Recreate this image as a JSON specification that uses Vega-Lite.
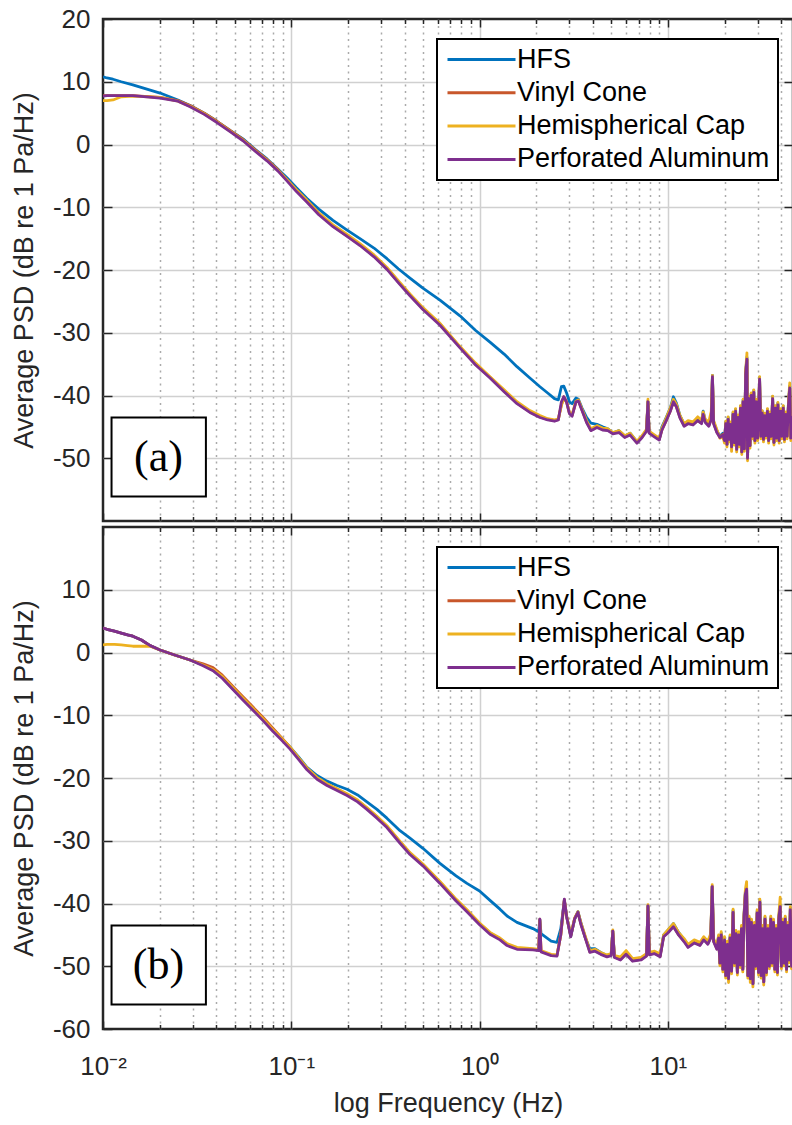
{
  "$schema": "https://vega.github.io/schema/vega-lite/v6.json",
  "autosize": {"type": "none"},
  "padding": {"left": 103, "top": 19, "right": 689, "bottom": 1106},
  "bounds": "flush",
  "spacing": 6,
  "background": "white",
  "config": {
    "view": {"stroke": "#262626", "strokeWidth": 2.5},
    "axis": {
      "labelFont": "Liberation Sans", "labelFontSize": 26, "labelColor": "#262626",
      "titleFont": "Liberation Sans", "titleFontSize": 27, "titleFontWeight": "normal", "titleColor": "#262626",
      "tickColor": "#262626", "tickWidth": 1.5, "domain": false, "labelOverlap": false,
      "labelFlush": false, "labelBound": false, "gridWidth": 1.5
    },
    "legend": {"strokeWidth": 2}
  },
  "datasets": {
    "a": [
      {"f":0.01,"HFS":10.8,"Vinyl Cone":7.8,"Hemispherical Cap":7.0,"Perforated Aluminum":7.7},
      {"f":0.0105,"HFS":10.6,"Vinyl Cone":7.8,"Hemispherical Cap":7.0,"Perforated Aluminum":7.8},
      {"f":0.0113,"HFS":10.4,"Vinyl Cone":7.8,"Hemispherical Cap":7.1,"Perforated Aluminum":7.8},
      {"f":0.0125,"HFS":10.0,"Vinyl Cone":7.8,"Hemispherical Cap":7.6,"Perforated Aluminum":7.8},
      {"f":0.0144,"HFS":9.5,"Vinyl Cone":7.8,"Hemispherical Cap":7.7,"Perforated Aluminum":7.8},
      {"f":0.0201,"HFS":8.2,"Vinyl Cone":7.5,"Hemispherical Cap":7.5,"Perforated Aluminum":7.4},
      {"f":0.025,"HFS":7.1,"Vinyl Cone":7.0,"Hemispherical Cap":6.9,"Perforated Aluminum":6.9},
      {"f":0.029,"HFS":6.2,"Vinyl Cone":6.2,"Hemispherical Cap":6.1,"Perforated Aluminum":6.0},
      {"f":0.0345,"HFS":5.0,"Vinyl Cone":5.0,"Hemispherical Cap":4.9,"Perforated Aluminum":4.8},
      {"f":0.0403,"HFS":3.7,"Vinyl Cone":3.7,"Hemispherical Cap":3.6,"Perforated Aluminum":3.5},
      {"f":0.0475,"HFS":2.2,"Vinyl Cone":2.2,"Hemispherical Cap":2.1,"Perforated Aluminum":2.0},
      {"f":0.0554,"HFS":0.9,"Vinyl Cone":0.8,"Hemispherical Cap":0.7,"Perforated Aluminum":0.6},
      {"f":0.0645,"HFS":-0.8,"Vinyl Cone":-0.9,"Hemispherical Cap":-1.0,"Perforated Aluminum":-1.1},
      {"f":0.0743,"HFS":-2.3,"Vinyl Cone":-2.4,"Hemispherical Cap":-2.5,"Perforated Aluminum":-2.6},
      {"f":0.0848,"HFS":-3.9,"Vinyl Cone":-4.0,"Hemispherical Cap":-4.1,"Perforated Aluminum":-4.2},
      {"f":0.0948,"HFS":-5.3,"Vinyl Cone":-5.6,"Hemispherical Cap":-5.6,"Perforated Aluminum":-5.8},
      {"f":0.1065,"HFS":-6.9,"Vinyl Cone":-7.3,"Hemispherical Cap":-7.2,"Perforated Aluminum":-7.5},
      {"f":0.1212,"HFS":-8.6,"Vinyl Cone":-9.0,"Hemispherical Cap":-8.9,"Perforated Aluminum":-9.2},
      {"f":0.14,"HFS":-10.3,"Vinyl Cone":-11.0,"Hemispherical Cap":-10.9,"Perforated Aluminum":-11.2},
      {"f":0.1665,"HFS":-12.1,"Vinyl Cone":-13.0,"Hemispherical Cap":-12.8,"Perforated Aluminum":-13.1},
      {"f":0.197,"HFS":-13.6,"Vinyl Cone":-14.5,"Hemispherical Cap":-14.3,"Perforated Aluminum":-14.6},
      {"f":0.2317,"HFS":-15.0,"Vinyl Cone":-16.0,"Hemispherical Cap":-15.8,"Perforated Aluminum":-16.1},
      {"f":0.275,"HFS":-16.5,"Vinyl Cone":-17.8,"Hemispherical Cap":-17.6,"Perforated Aluminum":-17.9},
      {"f":0.3223,"HFS":-18.2,"Vinyl Cone":-19.8,"Hemispherical Cap":-19.6,"Perforated Aluminum":-19.9},
      {"f":0.37,"HFS":-19.8,"Vinyl Cone":-21.9,"Hemispherical Cap":-21.7,"Perforated Aluminum":-22.0},
      {"f":0.4269,"HFS":-21.3,"Vinyl Cone":-24.0,"Hemispherical Cap":-23.8,"Perforated Aluminum":-24.1},
      {"f":0.5,"HFS":-22.9,"Vinyl Cone":-26.2,"Hemispherical Cap":-26.0,"Perforated Aluminum":-26.3},
      {"f":0.6163,"HFS":-24.8,"Vinyl Cone":-28.6,"Hemispherical Cap":-28.5,"Perforated Aluminum":-28.8},
      {"f":0.787,"HFS":-27.3,"Vinyl Cone":-32.3,"Hemispherical Cap":-32.2,"Perforated Aluminum":-32.4},
      {"f":0.95,"HFS":-29.6,"Vinyl Cone":-35.0,"Hemispherical Cap":-34.8,"Perforated Aluminum":-35.1},
      {"f":1.136,"HFS":-31.5,"Vinyl Cone":-37.1,"Hemispherical Cap":-37.0,"Perforated Aluminum":-37.2},
      {"f":1.35,"HFS":-33.4,"Vinyl Cone":-39.3,"Hemispherical Cap":-39.1,"Perforated Aluminum":-39.4},
      {"f":1.58,"HFS":-35.4,"Vinyl Cone":-41.2,"Hemispherical Cap":-41.0,"Perforated Aluminum":-41.3},
      {"f":1.85,"HFS":-37.2,"Vinyl Cone":-42.6,"Hemispherical Cap":-42.4,"Perforated Aluminum":-42.7},
      {"f":2.093,"HFS":-38.6,"Vinyl Cone":-43.4,"Hemispherical Cap":-43.2,"Perforated Aluminum":-43.5},
      {"f":2.3,"HFS":-39.6,"Vinyl Cone":-43.8,"Hemispherical Cap":-43.7,"Perforated Aluminum":-43.9},
      {"f":2.5,"HFS":-40.5,"Vinyl Cone":-44.0,"Hemispherical Cap":-43.9,"Perforated Aluminum":-44.1},
      {"f":2.62,"HFS":-40.7,"Vinyl Cone":-43.8,"Hemispherical Cap":-43.7,"Perforated Aluminum":-43.9},
      {"f":2.72,"HFS":-38.6,"Vinyl Cone":-41.5,"Hemispherical Cap":-41.6,"Perforated Aluminum":-41.0},
      {"f":2.8,"HFS":-38.5,"Vinyl Cone":-40.2,"Hemispherical Cap":-40.4,"Perforated Aluminum":-40.2},
      {"f":2.9,"HFS":-39.6,"Vinyl Cone":-41.0,"Hemispherical Cap":-41.1,"Perforated Aluminum":-41.1},
      {"f":3.0,"HFS":-41.0,"Vinyl Cone":-42.8,"Hemispherical Cap":-42.7,"Perforated Aluminum":-42.9},
      {"f":3.1,"HFS":-41.3,"Vinyl Cone":-43.2,"Hemispherical Cap":-43.0,"Perforated Aluminum":-43.3},
      {"f":3.25,"HFS":-40.4,"Vinyl Cone":-41.0,"Hemispherical Cap":-40.9,"Perforated Aluminum":-41.0},
      {"f":3.35,"HFS":-40.6,"Vinyl Cone":-40.8,"Hemispherical Cap":-40.7,"Perforated Aluminum":-40.9},
      {"f":3.5,"HFS":-42.0,"Vinyl Cone":-42.3,"Hemispherical Cap":-42.2,"Perforated Aluminum":-42.4},
      {"f":3.7,"HFS":-43.5,"Vinyl Cone":-44.2,"Hemispherical Cap":-44.0,"Perforated Aluminum":-44.3},
      {"f":3.9,"HFS":-44.4,"Vinyl Cone":-45.5,"Hemispherical Cap":-45.3,"Perforated Aluminum":-45.6},
      {"f":4.2,"HFS":-44.6,"Vinyl Cone":-45.0,"Hemispherical Cap":-44.8,"Perforated Aluminum":-45.1},
      {"f":4.5,"HFS":-45.0,"Vinyl Cone":-45.4,"Hemispherical Cap":-45.2,"Perforated Aluminum":-45.5},
      {"f":4.8,"HFS":-45.3,"Vinyl Cone":-45.5,"Hemispherical Cap":-45.3,"Perforated Aluminum":-45.6},
      {"f":5.1,"HFS":-46.0,"Vinyl Cone":-46.0,"Hemispherical Cap":-45.9,"Perforated Aluminum":-46.1},
      {"f":5.5,"HFS":-45.6,"Vinyl Cone":-45.8,"Hemispherical Cap":-45.6,"Perforated Aluminum":-45.9},
      {"f":5.9,"HFS":-46.5,"Vinyl Cone":-46.6,"Hemispherical Cap":-46.4,"Perforated Aluminum":-46.7},
      {"f":6.3,"HFS":-46.0,"Vinyl Cone":-46.2,"Hemispherical Cap":-46.0,"Perforated Aluminum":-46.3},
      {"f":6.85,"HFS":-47.4,"Vinyl Cone":-47.5,"Hemispherical Cap":-47.3,"Perforated Aluminum":-47.6},
      {"f":7.3,"HFS":-46.5,"Vinyl Cone":-46.6,"Hemispherical Cap":-46.4,"Perforated Aluminum":-46.7},
      {"f":7.7,"HFS":-45.5,"Vinyl Cone":-45.6,"Hemispherical Cap":-45.4,"Perforated Aluminum":-45.7},
      {"f":7.84,"HFS":-41.0,"Vinyl Cone":-41.0,"Hemispherical Cap":-40.6,"Perforated Aluminum":-41.0},
      {"f":7.95,"HFS":-45.8,"Vinyl Cone":-45.9,"Hemispherical Cap":-45.7,"Perforated Aluminum":-46.0},
      {"f":8.4,"HFS":-46.3,"Vinyl Cone":-46.4,"Hemispherical Cap":-46.2,"Perforated Aluminum":-46.5},
      {"f":9.0,"HFS":-47.0,"Vinyl Cone":-47.0,"Hemispherical Cap":-46.8,"Perforated Aluminum":-47.1},
      {"f":9.3,"HFS":-45.0,"Vinyl Cone":-45.5,"Hemispherical Cap":-45.2,"Perforated Aluminum":-45.5},
      {"f":9.8,"HFS":-43.5,"Vinyl Cone":-44.0,"Hemispherical Cap":-43.6,"Perforated Aluminum":-44.0},
      {"f":10.3,"HFS":-42.0,"Vinyl Cone":-42.5,"Hemispherical Cap":-42.0,"Perforated Aluminum":-42.5},
      {"f":10.7,"HFS":-40.2,"Vinyl Cone":-41.0,"Hemispherical Cap":-40.6,"Perforated Aluminum":-41.0},
      {"f":11.1,"HFS":-41.2,"Vinyl Cone":-41.8,"Hemispherical Cap":-41.4,"Perforated Aluminum":-41.8},
      {"f":11.6,"HFS":-43.2,"Vinyl Cone":-43.5,"Hemispherical Cap":-43.2,"Perforated Aluminum":-43.6},
      {"f":12.2,"HFS":-44.6,"Vinyl Cone":-44.8,"Hemispherical Cap":-44.5,"Perforated Aluminum":-44.9},
      {"f":12.8,"HFS":-44.2,"Vinyl Cone":-44.4,"Hemispherical Cap":-44.0,"Perforated Aluminum":-44.5},
      {"f":13.6,"HFS":-44.5,"Vinyl Cone":-44.6,"Hemispherical Cap":-44.2,"Perforated Aluminum":-44.7},
      {"f":14.4,"HFS":-43.6,"Vinyl Cone":-44.0,"Hemispherical Cap":-43.4,"Perforated Aluminum":-44.0},
      {"f":15.1,"HFS":-44.2,"Vinyl Cone":-44.4,"Hemispherical Cap":-44.0,"Perforated Aluminum":-44.5},
      {"f":15.4,"HFS":-42.5,"Vinyl Cone":-43.0,"Hemispherical Cap":-42.6,"Perforated Aluminum":-43.0},
      {"f":15.8,"HFS":-44.0,"Vinyl Cone":-44.2,"Hemispherical Cap":-43.8,"Perforated Aluminum":-44.3},
      {"f":16.5,"HFS":-44.6,"Vinyl Cone":-44.8,"Hemispherical Cap":-44.2,"Perforated Aluminum":-44.9},
      {"f":17.0,"HFS":-43.5,"Vinyl Cone":-43.8,"Hemispherical Cap":-42.5,"Perforated Aluminum":-43.8},
      {"f":17.25,"HFS":-36.8,"Vinyl Cone":-37.0,"Hemispherical Cap":-36.8,"Perforated Aluminum":-37.0},
      {"f":17.5,"HFS":-44.2,"Vinyl Cone":-44.4,"Hemispherical Cap":-44.0,"Perforated Aluminum":-44.5},
      {"f":18.2,"HFS":-45.6,"Vinyl Cone":-45.8,"Hemispherical Cap":-45.4,"Perforated Aluminum":-45.9},
      {"f":18.9,"HFS":-46.5,"Vinyl Cone":-46.6,"Hemispherical Cap":-46.8,"Perforated Aluminum":-46.7},
      {"f":19.6,"HFS":-46.0,"Vinyl Cone":-46.2,"Hemispherical Cap":-46.6,"Perforated Aluminum":-46.3},
      {"f":20.0,"HFS":-47.2,"Vinyl Cone":-47.2,"Hemispherical Cap":-47.6,"Perforated Aluminum":-47.2},
      {"f":20.3,"HFS":-44.2,"Vinyl Cone":-44.5,"Hemispherical Cap":-44.1,"Perforated Aluminum":-44.5},
      {"f":20.6,"HFS":-47.8,"Vinyl Cone":-47.8,"Hemispherical Cap":-48.2,"Perforated Aluminum":-47.8},
      {"f":20.9,"HFS":-43.5,"Vinyl Cone":-43.8,"Hemispherical Cap":-43.4,"Perforated Aluminum":-43.8},
      {"f":21.2,"HFS":-47.0,"Vinyl Cone":-47.0,"Hemispherical Cap":-47.4,"Perforated Aluminum":-47.0},
      {"f":21.5,"HFS":-44.3,"Vinyl Cone":-44.6,"Hemispherical Cap":-44.2,"Perforated Aluminum":-44.6},
      {"f":21.8,"HFS":-48.2,"Vinyl Cone":-48.2,"Hemispherical Cap":-48.9,"Perforated Aluminum":-48.2},
      {"f":22.2,"HFS":-42.7,"Vinyl Cone":-43.0,"Hemispherical Cap":-42.6,"Perforated Aluminum":-43.0},
      {"f":22.5,"HFS":-47.5,"Vinyl Cone":-47.5,"Hemispherical Cap":-47.9,"Perforated Aluminum":-47.5},
      {"f":22.9,"HFS":-42.2,"Vinyl Cone":-42.5,"Hemispherical Cap":-42.1,"Perforated Aluminum":-42.5},
      {"f":23.2,"HFS":-48.6,"Vinyl Cone":-48.6,"Hemispherical Cap":-49.0,"Perforated Aluminum":-48.6},
      {"f":23.6,"HFS":-43.2,"Vinyl Cone":-43.5,"Hemispherical Cap":-43.1,"Perforated Aluminum":-43.5},
      {"f":24.0,"HFS":-47.8,"Vinyl Cone":-47.8,"Hemispherical Cap":-48.2,"Perforated Aluminum":-47.8},
      {"f":24.3,"HFS":-41.7,"Vinyl Cone":-42.0,"Hemispherical Cap":-41.6,"Perforated Aluminum":-42.0},
      {"f":24.7,"HFS":-49.0,"Vinyl Cone":-49.0,"Hemispherical Cap":-49.4,"Perforated Aluminum":-49.0},
      {"f":25.1,"HFS":-40.7,"Vinyl Cone":-41.0,"Hemispherical Cap":-40.6,"Perforated Aluminum":-41.0},
      {"f":25.5,"HFS":-48.5,"Vinyl Cone":-48.5,"Hemispherical Cap":-48.9,"Perforated Aluminum":-48.5},
      {"f":25.9,"HFS":-36.2,"Vinyl Cone":-36.5,"Hemispherical Cap":-36.1,"Perforated Aluminum":-36.5},
      {"f":26.3,"HFS":-33.9,"Vinyl Cone":-34.2,"Hemispherical Cap":-33.2,"Perforated Aluminum":-34.2},
      {"f":26.5,"HFS":-50.0,"Vinyl Cone":-50.0,"Hemispherical Cap":-50.4,"Perforated Aluminum":-50.0},
      {"f":26.9,"HFS":-40.2,"Vinyl Cone":-40.5,"Hemispherical Cap":-40.1,"Perforated Aluminum":-40.5},
      {"f":27.3,"HFS":-48.0,"Vinyl Cone":-48.0,"Hemispherical Cap":-48.4,"Perforated Aluminum":-48.0},
      {"f":27.7,"HFS":-39.7,"Vinyl Cone":-40.0,"Hemispherical Cap":-39.6,"Perforated Aluminum":-40.0},
      {"f":28.1,"HFS":-46.5,"Vinyl Cone":-46.5,"Hemispherical Cap":-46.9,"Perforated Aluminum":-46.5},
      {"f":28.6,"HFS":-39.2,"Vinyl Cone":-39.5,"Hemispherical Cap":-39.1,"Perforated Aluminum":-39.5},
      {"f":29.0,"HFS":-47.2,"Vinyl Cone":-47.2,"Hemispherical Cap":-47.6,"Perforated Aluminum":-47.2},
      {"f":29.5,"HFS":-40.7,"Vinyl Cone":-41.0,"Hemispherical Cap":-40.6,"Perforated Aluminum":-41.0},
      {"f":30.0,"HFS":-46.8,"Vinyl Cone":-46.8,"Hemispherical Cap":-47.2,"Perforated Aluminum":-46.8},
      {"f":30.7,"HFS":-37.1,"Vinyl Cone":-37.4,"Hemispherical Cap":-37.0,"Perforated Aluminum":-37.4},
      {"f":31.2,"HFS":-46.5,"Vinyl Cone":-46.5,"Hemispherical Cap":-46.9,"Perforated Aluminum":-46.5},
      {"f":31.7,"HFS":-42.5,"Vinyl Cone":-42.8,"Hemispherical Cap":-42.4,"Perforated Aluminum":-42.8},
      {"f":32.2,"HFS":-47.0,"Vinyl Cone":-47.0,"Hemispherical Cap":-47.4,"Perforated Aluminum":-47.0},
      {"f":32.7,"HFS":-42.9,"Vinyl Cone":-43.2,"Hemispherical Cap":-42.8,"Perforated Aluminum":-43.2},
      {"f":33.2,"HFS":-46.4,"Vinyl Cone":-46.4,"Hemispherical Cap":-46.8,"Perforated Aluminum":-46.4},
      {"f":33.8,"HFS":-42.2,"Vinyl Cone":-42.5,"Hemispherical Cap":-42.1,"Perforated Aluminum":-42.5},
      {"f":34.3,"HFS":-47.2,"Vinyl Cone":-47.2,"Hemispherical Cap":-47.6,"Perforated Aluminum":-47.2},
      {"f":34.9,"HFS":-42.7,"Vinyl Cone":-43.0,"Hemispherical Cap":-42.6,"Perforated Aluminum":-43.0},
      {"f":35.4,"HFS":-46.5,"Vinyl Cone":-46.5,"Hemispherical Cap":-46.9,"Perforated Aluminum":-46.5},
      {"f":36.0,"HFS":-40.2,"Vinyl Cone":-40.5,"Hemispherical Cap":-40.1,"Perforated Aluminum":-40.5},
      {"f":36.6,"HFS":-47.5,"Vinyl Cone":-47.5,"Hemispherical Cap":-47.9,"Perforated Aluminum":-47.5},
      {"f":37.2,"HFS":-41.7,"Vinyl Cone":-42.0,"Hemispherical Cap":-41.6,"Perforated Aluminum":-42.0},
      {"f":37.8,"HFS":-46.8,"Vinyl Cone":-46.8,"Hemispherical Cap":-47.2,"Perforated Aluminum":-46.8},
      {"f":38.4,"HFS":-41.2,"Vinyl Cone":-41.5,"Hemispherical Cap":-41.1,"Perforated Aluminum":-41.5},
      {"f":39.0,"HFS":-47.2,"Vinyl Cone":-47.2,"Hemispherical Cap":-47.6,"Perforated Aluminum":-47.2},
      {"f":39.7,"HFS":-42.2,"Vinyl Cone":-42.5,"Hemispherical Cap":-42.1,"Perforated Aluminum":-42.5},
      {"f":40.3,"HFS":-46.5,"Vinyl Cone":-46.5,"Hemispherical Cap":-46.9,"Perforated Aluminum":-46.5},
      {"f":41.0,"HFS":-41.7,"Vinyl Cone":-42.0,"Hemispherical Cap":-41.6,"Perforated Aluminum":-42.0},
      {"f":41.6,"HFS":-47.0,"Vinyl Cone":-47.0,"Hemispherical Cap":-47.4,"Perforated Aluminum":-47.0},
      {"f":42.3,"HFS":-42.7,"Vinyl Cone":-43.0,"Hemispherical Cap":-42.6,"Perforated Aluminum":-43.0},
      {"f":43.0,"HFS":-46.5,"Vinyl Cone":-46.5,"Hemispherical Cap":-46.9,"Perforated Aluminum":-46.5},
      {"f":43.7,"HFS":-41.2,"Vinyl Cone":-41.5,"Hemispherical Cap":-41.1,"Perforated Aluminum":-41.5},
      {"f":44.4,"HFS":-38.5,"Vinyl Cone":-38.8,"Hemispherical Cap":-38.0,"Perforated Aluminum":-38.8},
      {"f":45.0,"HFS":-46.8,"Vinyl Cone":-46.8,"Hemispherical Cap":-47.2,"Perforated Aluminum":-46.8},
      {"f":45.7,"HFS":-43.2,"Vinyl Cone":-43.5,"Hemispherical Cap":-43.1,"Perforated Aluminum":-43.5},
      {"f":46.2,"HFS":-45.5,"Vinyl Cone":-45.5,"Hemispherical Cap":-45.9,"Perforated Aluminum":-45.5}
    ],
    "b": [
      {"f":0.01,"HFS":3.9,"Vinyl Cone":3.9,"Hemispherical Cap":1.2,"Perforated Aluminum":3.9},
      {"f":0.0105,"HFS":3.7,"Vinyl Cone":3.7,"Hemispherical Cap":1.3,"Perforated Aluminum":3.7},
      {"f":0.0115,"HFS":3.4,"Vinyl Cone":3.4,"Hemispherical Cap":1.3,"Perforated Aluminum":3.4},
      {"f":0.0125,"HFS":3.1,"Vinyl Cone":3.1,"Hemispherical Cap":1.2,"Perforated Aluminum":3.1},
      {"f":0.0135,"HFS":2.8,"Vinyl Cone":2.8,"Hemispherical Cap":1.1,"Perforated Aluminum":2.8},
      {"f":0.0144,"HFS":2.6,"Vinyl Cone":2.6,"Hemispherical Cap":1.0,"Perforated Aluminum":2.6},
      {"f":0.016,"HFS":2.0,"Vinyl Cone":2.0,"Hemispherical Cap":1.0,"Perforated Aluminum":2.0},
      {"f":0.0178,"HFS":1.1,"Vinyl Cone":1.1,"Hemispherical Cap":1.0,"Perforated Aluminum":1.1},
      {"f":0.0201,"HFS":0.4,"Vinyl Cone":0.4,"Hemispherical Cap":0.4,"Perforated Aluminum":0.4},
      {"f":0.024,"HFS":-0.4,"Vinyl Cone":-0.4,"Hemispherical Cap":-0.4,"Perforated Aluminum":-0.4},
      {"f":0.029,"HFS":-1.2,"Vinyl Cone":-1.2,"Hemispherical Cap":-1.2,"Perforated Aluminum":-1.2},
      {"f":0.034,"HFS":-2.0,"Vinyl Cone":-1.8,"Hemispherical Cap":-2.0,"Perforated Aluminum":-2.1},
      {"f":0.0384,"HFS":-2.8,"Vinyl Cone":-2.4,"Hemispherical Cap":-2.7,"Perforated Aluminum":-2.9},
      {"f":0.043,"HFS":-4.0,"Vinyl Cone":-3.6,"Hemispherical Cap":-3.8,"Perforated Aluminum":-4.1},
      {"f":0.049,"HFS":-5.8,"Vinyl Cone":-5.4,"Hemispherical Cap":-5.6,"Perforated Aluminum":-5.9},
      {"f":0.0555,"HFS":-7.4,"Vinyl Cone":-7.1,"Hemispherical Cap":-7.3,"Perforated Aluminum":-7.6},
      {"f":0.0626,"HFS":-9.0,"Vinyl Cone":-8.7,"Hemispherical Cap":-8.9,"Perforated Aluminum":-9.2},
      {"f":0.071,"HFS":-10.7,"Vinyl Cone":-10.4,"Hemispherical Cap":-10.6,"Perforated Aluminum":-10.9},
      {"f":0.08,"HFS":-12.3,"Vinyl Cone":-12.1,"Hemispherical Cap":-12.3,"Perforated Aluminum":-12.6},
      {"f":0.089,"HFS":-13.7,"Vinyl Cone":-13.6,"Hemispherical Cap":-13.7,"Perforated Aluminum":-14.0},
      {"f":0.0985,"HFS":-15.1,"Vinyl Cone":-15.1,"Hemispherical Cap":-15.1,"Perforated Aluminum":-15.4},
      {"f":0.109,"HFS":-16.6,"Vinyl Cone":-16.8,"Hemispherical Cap":-16.7,"Perforated Aluminum":-17.0},
      {"f":0.1212,"HFS":-18.3,"Vinyl Cone":-18.5,"Hemispherical Cap":-18.4,"Perforated Aluminum":-18.7},
      {"f":0.137,"HFS":-19.6,"Vinyl Cone":-20.0,"Hemispherical Cap":-19.9,"Perforated Aluminum":-20.2},
      {"f":0.1547,"HFS":-20.5,"Vinyl Cone":-21.0,"Hemispherical Cap":-20.9,"Perforated Aluminum":-21.2},
      {"f":0.175,"HFS":-21.2,"Vinyl Cone":-21.8,"Hemispherical Cap":-21.7,"Perforated Aluminum":-22.0},
      {"f":0.1977,"HFS":-21.8,"Vinyl Cone":-22.6,"Hemispherical Cap":-22.5,"Perforated Aluminum":-22.8},
      {"f":0.225,"HFS":-22.7,"Vinyl Cone":-23.6,"Hemispherical Cap":-23.5,"Perforated Aluminum":-23.8},
      {"f":0.252,"HFS":-23.8,"Vinyl Cone":-24.8,"Hemispherical Cap":-24.7,"Perforated Aluminum":-25.0},
      {"f":0.285,"HFS":-25.0,"Vinyl Cone":-26.2,"Hemispherical Cap":-26.1,"Perforated Aluminum":-26.4},
      {"f":0.322,"HFS":-26.4,"Vinyl Cone":-27.7,"Hemispherical Cap":-27.6,"Perforated Aluminum":-27.9},
      {"f":0.378,"HFS":-28.4,"Vinyl Cone":-30.2,"Hemispherical Cap":-30.1,"Perforated Aluminum":-30.4},
      {"f":0.427,"HFS":-29.6,"Vinyl Cone":-32.0,"Hemispherical Cap":-31.9,"Perforated Aluminum":-32.2},
      {"f":0.5,"HFS":-31.2,"Vinyl Cone":-33.8,"Hemispherical Cap":-33.7,"Perforated Aluminum":-34.0},
      {"f":0.616,"HFS":-33.6,"Vinyl Cone":-36.6,"Hemispherical Cap":-36.5,"Perforated Aluminum":-36.8},
      {"f":0.75,"HFS":-35.6,"Vinyl Cone":-39.4,"Hemispherical Cap":-39.3,"Perforated Aluminum":-39.6},
      {"f":0.857,"HFS":-36.8,"Vinyl Cone":-41.1,"Hemispherical Cap":-41.0,"Perforated Aluminum":-41.3},
      {"f":1.0,"HFS":-38.0,"Vinyl Cone":-43.2,"Hemispherical Cap":-43.1,"Perforated Aluminum":-43.4},
      {"f":1.136,"HFS":-39.5,"Vinyl Cone":-44.7,"Hemispherical Cap":-44.6,"Perforated Aluminum":-44.9},
      {"f":1.283,"HFS":-40.9,"Vinyl Cone":-45.6,"Hemispherical Cap":-45.5,"Perforated Aluminum":-45.8},
      {"f":1.4,"HFS":-42.0,"Vinyl Cone":-46.5,"Hemispherical Cap":-46.4,"Perforated Aluminum":-46.7},
      {"f":1.58,"HFS":-43.0,"Vinyl Cone":-47.1,"Hemispherical Cap":-47.0,"Perforated Aluminum":-47.3},
      {"f":1.92,"HFS":-44.0,"Vinyl Cone":-47.3,"Hemispherical Cap":-47.2,"Perforated Aluminum":-47.4},
      {"f":2.06,"HFS":-44.5,"Vinyl Cone":-47.4,"Hemispherical Cap":-47.3,"Perforated Aluminum":-47.5},
      {"f":2.09,"HFS":-42.6,"Vinyl Cone":-42.5,"Hemispherical Cap":-42.8,"Perforated Aluminum":-42.5},
      {"f":2.12,"HFS":-44.8,"Vinyl Cone":-47.6,"Hemispherical Cap":-47.5,"Perforated Aluminum":-47.7},
      {"f":2.4,"HFS":-46.0,"Vinyl Cone":-48.2,"Hemispherical Cap":-48.1,"Perforated Aluminum":-48.3},
      {"f":2.576,"HFS":-46.2,"Vinyl Cone":-48.3,"Hemispherical Cap":-48.2,"Perforated Aluminum":-48.4},
      {"f":2.7,"HFS":-44.0,"Vinyl Cone":-45.0,"Hemispherical Cap":-45.0,"Perforated Aluminum":-45.0},
      {"f":2.82,"HFS":-39.5,"Vinyl Cone":-39.4,"Hemispherical Cap":-39.5,"Perforated Aluminum":-39.3},
      {"f":2.9,"HFS":-42.0,"Vinyl Cone":-42.1,"Hemispherical Cap":-42.0,"Perforated Aluminum":-42.1},
      {"f":3.05,"HFS":-45.2,"Vinyl Cone":-45.2,"Hemispherical Cap":-45.0,"Perforated Aluminum":-45.3},
      {"f":3.2,"HFS":-42.5,"Vinyl Cone":-42.4,"Hemispherical Cap":-42.3,"Perforated Aluminum":-42.4},
      {"f":3.33,"HFS":-41.3,"Vinyl Cone":-41.4,"Hemispherical Cap":-41.3,"Perforated Aluminum":-41.4},
      {"f":3.45,"HFS":-43.0,"Vinyl Cone":-43.2,"Hemispherical Cap":-43.0,"Perforated Aluminum":-43.3},
      {"f":3.65,"HFS":-45.5,"Vinyl Cone":-45.5,"Hemispherical Cap":-45.3,"Perforated Aluminum":-45.6},
      {"f":3.85,"HFS":-47.2,"Vinyl Cone":-47.7,"Hemispherical Cap":-47.5,"Perforated Aluminum":-47.8},
      {"f":4.1,"HFS":-47.2,"Vinyl Cone":-47.5,"Hemispherical Cap":-47.3,"Perforated Aluminum":-47.6},
      {"f":4.4,"HFS":-47.8,"Vinyl Cone":-48.0,"Hemispherical Cap":-47.8,"Perforated Aluminum":-48.1},
      {"f":4.75,"HFS":-48.3,"Vinyl Cone":-48.4,"Hemispherical Cap":-48.2,"Perforated Aluminum":-48.5},
      {"f":5.0,"HFS":-48.0,"Vinyl Cone":-48.2,"Hemispherical Cap":-48.0,"Perforated Aluminum":-48.3},
      {"f":5.1,"HFS":-44.4,"Vinyl Cone":-44.4,"Hemispherical Cap":-44.2,"Perforated Aluminum":-44.4},
      {"f":5.2,"HFS":-48.4,"Vinyl Cone":-48.5,"Hemispherical Cap":-48.3,"Perforated Aluminum":-48.6},
      {"f":5.6,"HFS":-48.8,"Vinyl Cone":-48.9,"Hemispherical Cap":-48.5,"Perforated Aluminum":-49.0},
      {"f":6.0,"HFS":-47.8,"Vinyl Cone":-48.0,"Hemispherical Cap":-47.5,"Perforated Aluminum":-48.1},
      {"f":6.5,"HFS":-49.0,"Vinyl Cone":-49.1,"Hemispherical Cap":-48.8,"Perforated Aluminum":-49.2},
      {"f":7.2,"HFS":-48.8,"Vinyl Cone":-48.9,"Hemispherical Cap":-48.6,"Perforated Aluminum":-49.0},
      {"f":7.7,"HFS":-48.2,"Vinyl Cone":-48.3,"Hemispherical Cap":-48.0,"Perforated Aluminum":-48.4},
      {"f":7.84,"HFS":-40.4,"Vinyl Cone":-40.4,"Hemispherical Cap":-40.2,"Perforated Aluminum":-40.4},
      {"f":7.98,"HFS":-48.0,"Vinyl Cone":-48.1,"Hemispherical Cap":-47.8,"Perforated Aluminum":-48.2},
      {"f":8.5,"HFS":-47.8,"Vinyl Cone":-47.9,"Hemispherical Cap":-47.6,"Perforated Aluminum":-48.0},
      {"f":9.1,"HFS":-48.2,"Vinyl Cone":-48.4,"Hemispherical Cap":-48.0,"Perforated Aluminum":-48.5},
      {"f":9.5,"HFS":-45.0,"Vinyl Cone":-45.2,"Hemispherical Cap":-45.0,"Perforated Aluminum":-45.3},
      {"f":10.0,"HFS":-44.3,"Vinyl Cone":-44.6,"Hemispherical Cap":-44.2,"Perforated Aluminum":-44.7},
      {"f":10.7,"HFS":-43.2,"Vinyl Cone":-43.6,"Hemispherical Cap":-43.2,"Perforated Aluminum":-43.7},
      {"f":11.4,"HFS":-44.6,"Vinyl Cone":-45.0,"Hemispherical Cap":-44.6,"Perforated Aluminum":-45.0},
      {"f":12.2,"HFS":-45.8,"Vinyl Cone":-46.0,"Hemispherical Cap":-45.6,"Perforated Aluminum":-46.1},
      {"f":12.8,"HFS":-46.8,"Vinyl Cone":-46.9,"Hemispherical Cap":-46.5,"Perforated Aluminum":-47.0},
      {"f":13.8,"HFS":-46.0,"Vinyl Cone":-46.2,"Hemispherical Cap":-45.8,"Perforated Aluminum":-46.3},
      {"f":14.8,"HFS":-46.5,"Vinyl Cone":-46.6,"Hemispherical Cap":-46.2,"Perforated Aluminum":-46.7},
      {"f":15.5,"HFS":-45.5,"Vinyl Cone":-45.7,"Hemispherical Cap":-45.3,"Perforated Aluminum":-45.8},
      {"f":16.3,"HFS":-46.2,"Vinyl Cone":-46.4,"Hemispherical Cap":-46.0,"Perforated Aluminum":-46.5},
      {"f":16.9,"HFS":-45.2,"Vinyl Cone":-45.4,"Hemispherical Cap":-44.8,"Perforated Aluminum":-45.5},
      {"f":17.2,"HFS":-37.3,"Vinyl Cone":-37.3,"Hemispherical Cap":-37.0,"Perforated Aluminum":-37.3},
      {"f":17.5,"HFS":-45.8,"Vinyl Cone":-46.0,"Hemispherical Cap":-45.6,"Perforated Aluminum":-46.1},
      {"f":18.2,"HFS":-47.0,"Vinyl Cone":-47.2,"Hemispherical Cap":-46.8,"Perforated Aluminum":-47.3},
      {"f":18.6,"HFS":-45.2,"Vinyl Cone":-45.5,"Hemispherical Cap":-45.0,"Perforated Aluminum":-45.5},
      {"f":18.9,"HFS":-49.5,"Vinyl Cone":-49.5,"Hemispherical Cap":-49.9,"Perforated Aluminum":-49.5},
      {"f":19.2,"HFS":-44.7,"Vinyl Cone":-45.0,"Hemispherical Cap":-44.5,"Perforated Aluminum":-45.0},
      {"f":19.6,"HFS":-50.5,"Vinyl Cone":-50.5,"Hemispherical Cap":-50.9,"Perforated Aluminum":-50.5},
      {"f":20.0,"HFS":-45.5,"Vinyl Cone":-45.8,"Hemispherical Cap":-45.3,"Perforated Aluminum":-45.8},
      {"f":20.3,"HFS":-51.5,"Vinyl Cone":-51.5,"Hemispherical Cap":-51.9,"Perforated Aluminum":-51.5},
      {"f":20.7,"HFS":-46.2,"Vinyl Cone":-46.5,"Hemispherical Cap":-46.0,"Perforated Aluminum":-46.5},
      {"f":21.0,"HFS":-52.0,"Vinyl Cone":-52.0,"Hemispherical Cap":-52.6,"Perforated Aluminum":-52.0},
      {"f":21.4,"HFS":-45.2,"Vinyl Cone":-45.5,"Hemispherical Cap":-45.0,"Perforated Aluminum":-45.5},
      {"f":21.8,"HFS":-50.8,"Vinyl Cone":-50.8,"Hemispherical Cap":-51.2,"Perforated Aluminum":-50.8},
      {"f":22.2,"HFS":-41.1,"Vinyl Cone":-41.4,"Hemispherical Cap":-40.9,"Perforated Aluminum":-41.4},
      {"f":22.6,"HFS":-49.5,"Vinyl Cone":-49.5,"Hemispherical Cap":-49.9,"Perforated Aluminum":-49.5},
      {"f":23.0,"HFS":-44.5,"Vinyl Cone":-44.8,"Hemispherical Cap":-44.3,"Perforated Aluminum":-44.8},
      {"f":23.4,"HFS":-51.0,"Vinyl Cone":-51.0,"Hemispherical Cap":-51.4,"Perforated Aluminum":-51.0},
      {"f":23.8,"HFS":-44.7,"Vinyl Cone":-45.0,"Hemispherical Cap":-44.5,"Perforated Aluminum":-45.0},
      {"f":24.2,"HFS":-49.8,"Vinyl Cone":-49.8,"Hemispherical Cap":-50.2,"Perforated Aluminum":-49.8},
      {"f":24.6,"HFS":-43.7,"Vinyl Cone":-44.0,"Hemispherical Cap":-43.5,"Perforated Aluminum":-44.0},
      {"f":25.0,"HFS":-50.5,"Vinyl Cone":-50.5,"Hemispherical Cap":-50.9,"Perforated Aluminum":-50.5},
      {"f":25.4,"HFS":-41.7,"Vinyl Cone":-42.0,"Hemispherical Cap":-41.5,"Perforated Aluminum":-42.0},
      {"f":25.8,"HFS":-38.2,"Vinyl Cone":-38.5,"Hemispherical Cap":-37.8,"Perforated Aluminum":-38.5},
      {"f":26.2,"HFS":-37.4,"Vinyl Cone":-37.7,"Hemispherical Cap":-36.5,"Perforated Aluminum":-37.7},
      {"f":26.6,"HFS":-51.5,"Vinyl Cone":-51.5,"Hemispherical Cap":-51.9,"Perforated Aluminum":-51.5},
      {"f":27.0,"HFS":-42.2,"Vinyl Cone":-42.5,"Hemispherical Cap":-42.0,"Perforated Aluminum":-42.5},
      {"f":27.4,"HFS":-52.0,"Vinyl Cone":-52.0,"Hemispherical Cap":-52.6,"Perforated Aluminum":-52.0},
      {"f":27.8,"HFS":-42.7,"Vinyl Cone":-43.0,"Hemispherical Cap":-42.5,"Perforated Aluminum":-43.0},
      {"f":28.3,"HFS":-52.8,"Vinyl Cone":-52.8,"Hemispherical Cap":-53.3,"Perforated Aluminum":-52.8},
      {"f":28.8,"HFS":-43.2,"Vinyl Cone":-43.5,"Hemispherical Cap":-43.0,"Perforated Aluminum":-43.5},
      {"f":29.3,"HFS":-50.0,"Vinyl Cone":-50.0,"Hemispherical Cap":-50.4,"Perforated Aluminum":-50.0},
      {"f":29.8,"HFS":-41.2,"Vinyl Cone":-41.5,"Hemispherical Cap":-41.0,"Perforated Aluminum":-41.5},
      {"f":30.3,"HFS":-51.0,"Vinyl Cone":-51.0,"Hemispherical Cap":-51.4,"Perforated Aluminum":-51.0},
      {"f":30.8,"HFS":-39.5,"Vinyl Cone":-39.8,"Hemispherical Cap":-39.3,"Perforated Aluminum":-39.8},
      {"f":31.3,"HFS":-51.5,"Vinyl Cone":-51.5,"Hemispherical Cap":-51.9,"Perforated Aluminum":-51.5},
      {"f":31.8,"HFS":-43.7,"Vinyl Cone":-44.0,"Hemispherical Cap":-43.5,"Perforated Aluminum":-44.0},
      {"f":32.3,"HFS":-52.5,"Vinyl Cone":-52.5,"Hemispherical Cap":-53.0,"Perforated Aluminum":-52.5},
      {"f":32.8,"HFS":-42.2,"Vinyl Cone":-42.5,"Hemispherical Cap":-42.0,"Perforated Aluminum":-42.5},
      {"f":33.4,"HFS":-51.0,"Vinyl Cone":-51.0,"Hemispherical Cap":-51.4,"Perforated Aluminum":-51.0},
      {"f":34.0,"HFS":-43.7,"Vinyl Cone":-44.0,"Hemispherical Cap":-43.5,"Perforated Aluminum":-44.0},
      {"f":34.6,"HFS":-50.0,"Vinyl Cone":-50.0,"Hemispherical Cap":-50.4,"Perforated Aluminum":-50.0},
      {"f":35.2,"HFS":-42.2,"Vinyl Cone":-42.5,"Hemispherical Cap":-42.0,"Perforated Aluminum":-42.5},
      {"f":35.8,"HFS":-49.5,"Vinyl Cone":-49.5,"Hemispherical Cap":-49.9,"Perforated Aluminum":-49.5},
      {"f":36.4,"HFS":-42.7,"Vinyl Cone":-43.0,"Hemispherical Cap":-42.5,"Perforated Aluminum":-43.0},
      {"f":37.0,"HFS":-50.5,"Vinyl Cone":-50.5,"Hemispherical Cap":-50.9,"Perforated Aluminum":-50.5},
      {"f":37.6,"HFS":-43.7,"Vinyl Cone":-44.0,"Hemispherical Cap":-43.5,"Perforated Aluminum":-44.0},
      {"f":38.2,"HFS":-51.0,"Vinyl Cone":-51.0,"Hemispherical Cap":-51.4,"Perforated Aluminum":-51.0},
      {"f":38.8,"HFS":-42.2,"Vinyl Cone":-42.5,"Hemispherical Cap":-42.0,"Perforated Aluminum":-42.5},
      {"f":39.5,"HFS":-40.2,"Vinyl Cone":-40.5,"Hemispherical Cap":-39.0,"Perforated Aluminum":-40.5},
      {"f":40.1,"HFS":-50.0,"Vinyl Cone":-50.0,"Hemispherical Cap":-50.4,"Perforated Aluminum":-50.0},
      {"f":40.7,"HFS":-42.7,"Vinyl Cone":-43.0,"Hemispherical Cap":-42.5,"Perforated Aluminum":-43.0},
      {"f":41.4,"HFS":-49.5,"Vinyl Cone":-49.5,"Hemispherical Cap":-49.9,"Perforated Aluminum":-49.5},
      {"f":42.0,"HFS":-42.2,"Vinyl Cone":-42.5,"Hemispherical Cap":-42.0,"Perforated Aluminum":-42.5},
      {"f":42.7,"HFS":-50.5,"Vinyl Cone":-50.5,"Hemispherical Cap":-50.9,"Perforated Aluminum":-50.5},
      {"f":43.4,"HFS":-43.2,"Vinyl Cone":-43.5,"Hemispherical Cap":-43.0,"Perforated Aluminum":-43.5},
      {"f":44.1,"HFS":-49.0,"Vinyl Cone":-49.0,"Hemispherical Cap":-49.4,"Perforated Aluminum":-49.0},
      {"f":44.7,"HFS":-40.7,"Vinyl Cone":-41.0,"Hemispherical Cap":-40.5,"Perforated Aluminum":-41.0},
      {"f":45.4,"HFS":-50.0,"Vinyl Cone":-50.0,"Hemispherical Cap":-50.4,"Perforated Aluminum":-50.0},
      {"f":46.2,"HFS":-43.7,"Vinyl Cone":-44.0,"Hemispherical Cap":-43.5,"Perforated Aluminum":-44.0}
    ]
  },
  "resolve": {"legend": {"color": "independent"}},
  "vconcat": [
    {
      "width": 690,
      "height": 502,
      "layer": [
        {
          "data": {"name": "a"},
          "transform": [{"fold": ["HFS", "Vinyl Cone", "Hemispherical Cap", "Perforated Aluminum"], "as": ["Series", "PSD"]}],
          "mark": {"type": "line", "strokeWidth": 2.8, "clip": true, "strokeJoin": "round"},
          "encoding": {
            "x": {
              "field": "f", "type": "quantitative",
              "scale": {"type": "log", "domain": [0.01, 46.2], "nice": false},
              "axis": {
                "orient": "bottom", "title": null, "labels": false,
                "values": [0.01,0.02,0.03,0.04,0.05,0.06,0.07,0.08,0.09,0.1,0.2,0.3,0.4,0.5,0.6,0.7,0.8,0.9,1,2,3,4,5,6,7,8,9,10,20,30,40],
                "grid": true,
                "gridColor": {"condition": {"test": "indexof([0.1,1,10], datum.value) >= 0", "value": "#d0d0d0"}, "value": "#aaaaaa"},
                "gridDash": {"condition": {"test": "indexof([0.1,1,10], datum.value) >= 0", "value": []}, "value": [2, 4.5]},
                "gridOpacity": {"condition": {"test": "datum.value == 0.01", "value": 0}, "value": 1},
                "tickSize": {"condition": {"test": "indexof([0.01,0.1,1,10], datum.value) >= 0", "value": -8}, "value": -4.5}
              }
            },
            "y": {
              "field": "PSD", "type": "quantitative",
              "scale": {"domain": [-60, 20], "nice": false, "zero": false},
              "axis": {
                "orient": "left", "title": "Average PSD (dB re 1 Pa/Hz)",
                "values": [20, 10, 0, -10, -20, -30, -40, -50],
                "labelExpr": "'' + datum.value",
                "grid": true, "gridColor": "#d0d0d0",
                "gridOpacity": {"condition": {"test": "datum.value == 20", "value": 0}, "value": 1},
                "tickSize": -9, "labelPadding": 22, "titlePadding": 14
              }
            },
            "color": {
              "field": "Series", "type": "nominal",
              "scale": {"domain": ["HFS", "Vinyl Cone", "Hemispherical Cap", "Perforated Aluminum"], "range": ["#0072BD", "#C8572B", "#EDB120", "#7E2F8E"]},
              "legend": {
                "orient": "none", "legendX": 334, "legendY": 20, "title": null,
                "symbolType": "M-3.4,0L3.4,0", "symbolSize": 400, "symbolStrokeWidth": 3,
                "symbolOffset": 24, "labelOffset": 22,
                "labelFont": "Liberation Sans", "labelFontSize": 27, "labelColor": "#000000", "labelLimit": 500,
                "strokeColor": "#000000", "fillColor": "#ffffff", "padding": 7, "rowPadding": 5.3, "cornerRadius": 0
              }
            }
          }
        },
        {
          "data": {"values": [{"label": "(a)"}]},
          "mark": {"type": "rect", "fill": "white", "stroke": "black", "strokeWidth": 2},
          "encoding": {
            "x": {"datum": 0.0111, "type": "quantitative",
              "axis": {"orient": "top", "title": null, "labels": false, "grid": false,
                "values": [0.01,0.02,0.03,0.04,0.05,0.06,0.07,0.08,0.09,0.1,0.2,0.3,0.4,0.5,0.6,0.7,0.8,0.9,1,2,3,4,5,6,7,8,9,10,20,30,40],
                "tickSize": {"condition": {"test": "indexof([0.01,0.1,1,10], datum.value) >= 0", "value": -8}, "value": -4.5}}},
            "x2": {"datum": 0.0352},
            "y": {"datum": -43.5, "type": "quantitative",
              "axis": {"orient": "right", "title": null, "labels": false, "grid": false,
                "values": [20, 10, 0, -10, -20, -30, -40, -50, -60], "tickSize": -9}},
            "y2": {"datum": -56.1}
          }
        },
        {
          "data": {"values": [{"label": "(a)"}]},
          "mark": {"type": "text", "font": "Liberation Serif", "fontSize": 44, "color": "black", "align": "center", "baseline": "middle"},
          "encoding": {
            "x": {"datum": 0.0197, "type": "quantitative", "axis": null},
            "y": {"datum": -50, "type": "quantitative", "axis": null},
            "text": {"field": "label"}
          }
        }
      ],
      "resolve": {"axis": {"x": "independent", "y": "independent"}}
    },
    {
      "width": 690,
      "height": 502,
      "layer": [
        {
          "data": {"name": "b"},
          "transform": [{"fold": ["HFS", "Vinyl Cone", "Hemispherical Cap", "Perforated Aluminum"], "as": ["Series", "PSD"]}],
          "mark": {"type": "line", "strokeWidth": 2.8, "clip": true, "strokeJoin": "round"},
          "encoding": {
            "x": {
              "field": "f", "type": "quantitative",
              "scale": {"type": "log", "domain": [0.01, 46.2], "nice": false},
              "axis": {
                "orient": "bottom", "title": "log Frequency (Hz)",
                "values": [0.01,0.02,0.03,0.04,0.05,0.06,0.07,0.08,0.09,0.1,0.2,0.3,0.4,0.5,0.6,0.7,0.8,0.9,1,2,3,4,5,6,7,8,9,10,20,30,40],
                "labelExpr": "datum.value == 0.01 ? '10⁻²' : datum.value == 0.1 ? '10⁻¹' : datum.value == 1 ? '10⁰' : datum.value == 10 ? '10¹' : ''",
                "labelPadding": 32, "titlePadding": 8,
                "grid": true,
                "gridColor": {"condition": {"test": "indexof([0.1,1,10], datum.value) >= 0", "value": "#d0d0d0"}, "value": "#aaaaaa"},
                "gridDash": {"condition": {"test": "indexof([0.1,1,10], datum.value) >= 0", "value": []}, "value": [2, 4.5]},
                "gridOpacity": {"condition": {"test": "datum.value == 0.01", "value": 0}, "value": 1},
                "tickSize": {"condition": {"test": "indexof([0.01,0.1,1,10], datum.value) >= 0", "value": -8}, "value": -4.5}
              }
            },
            "y": {
              "field": "PSD", "type": "quantitative",
              "scale": {"domain": [-60, 20], "nice": false, "zero": false},
              "axis": {
                "orient": "left", "title": "Average PSD (dB re 1 Pa/Hz)",
                "values": [10, 0, -10, -20, -30, -40, -50, -60],
                "labelExpr": "'' + datum.value",
                "grid": true, "gridColor": "#d0d0d0",
                "gridOpacity": {"condition": {"test": "datum.value == -60", "value": 0}, "value": 1},
                "tickSize": -9, "labelPadding": 22, "titlePadding": 14
              }
            },
            "color": {
              "field": "Series", "type": "nominal",
              "scale": {"domain": ["HFS", "Vinyl Cone", "Hemispherical Cap", "Perforated Aluminum"], "range": ["#0072BD", "#C8572B", "#EDB120", "#7E2F8E"]},
              "legend": {
                "orient": "none", "legendX": 334, "legendY": 20, "title": null,
                "symbolType": "M-3.4,0L3.4,0", "symbolSize": 400, "symbolStrokeWidth": 3,
                "symbolOffset": 24, "labelOffset": 22,
                "labelFont": "Liberation Sans", "labelFontSize": 27, "labelColor": "#000000", "labelLimit": 500,
                "strokeColor": "#000000", "fillColor": "#ffffff", "padding": 7, "rowPadding": 5.3, "cornerRadius": 0
              }
            }
          }
        },
        {
          "data": {"values": [{"label": "(b)"}]},
          "mark": {"type": "rect", "fill": "white", "stroke": "black", "strokeWidth": 2},
          "encoding": {
            "x": {"datum": 0.0111, "type": "quantitative",
              "axis": {"orient": "top", "title": null, "labels": false, "grid": false,
                "values": [0.01,0.02,0.03,0.04,0.05,0.06,0.07,0.08,0.09,0.1,0.2,0.3,0.4,0.5,0.6,0.7,0.8,0.9,1,2,3,4,5,6,7,8,9,10,20,30,40],
                "tickSize": {"condition": {"test": "indexof([0.01,0.1,1,10], datum.value) >= 0", "value": -8}, "value": -4.5}}},
            "x2": {"datum": 0.0352},
            "y": {"datum": -43.5, "type": "quantitative",
              "axis": {"orient": "right", "title": null, "labels": false, "grid": false,
                "values": [20, 10, 0, -10, -20, -30, -40, -50, -60], "tickSize": -9}},
            "y2": {"datum": -56.1}
          }
        },
        {
          "data": {"values": [{"label": "(b)"}]},
          "mark": {"type": "text", "font": "Liberation Serif", "fontSize": 44, "color": "black", "align": "center", "baseline": "middle"},
          "encoding": {
            "x": {"datum": 0.0197, "type": "quantitative", "axis": null},
            "y": {"datum": -50, "type": "quantitative", "axis": null},
            "text": {"field": "label"}
          }
        }
      ],
      "resolve": {"axis": {"x": "independent", "y": "independent"}}
    }
  ]
}
